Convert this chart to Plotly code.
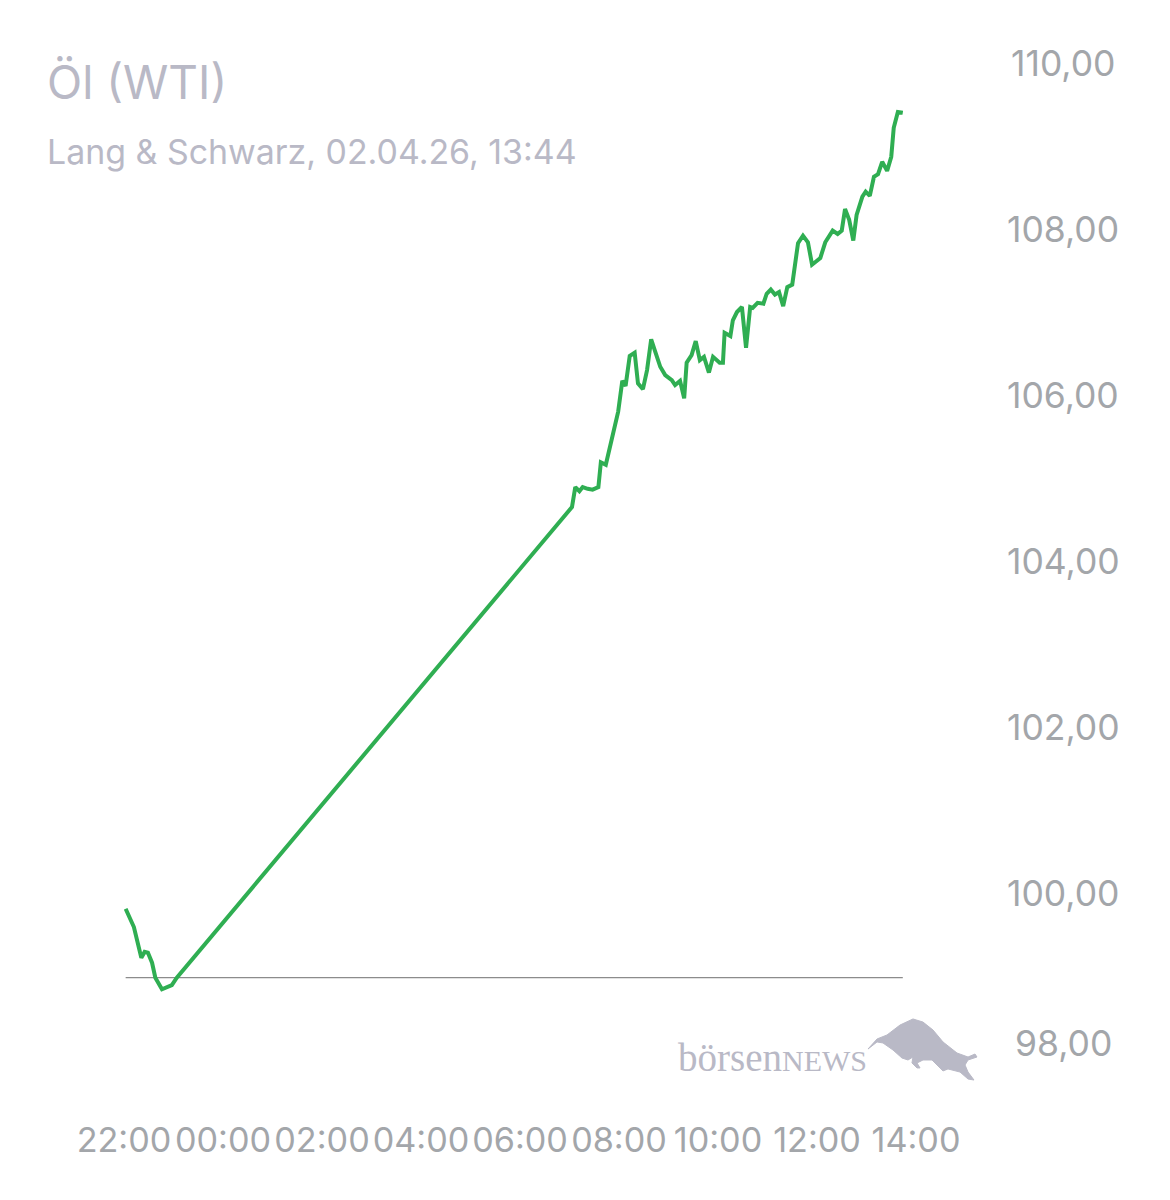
import pandas as pd
import plotly.graph_objects as go

W, H = 1170, 1200
# plot area in page pixels
LEFT, RIGHT, TOP, BOTTOM = 124, 916, 63, 1059

session_start = pd.Timestamp("2026-04-01 22:00")

# minutes after 22:00 and price
minutes = [
    2, 12, 21, 23, 25, 29, 34, 38, 46, 58, 64, 543, 547, 552, 556, 562, 568, 575, 578, 584,
    589, 595, 599, 604, 608, 613, 619, 623, 629, 634, 639, 644, 650, 656, 664, 668, 674, 679, 682, 688,
    693, 698, 703, 709, 714, 722, 726, 728, 735, 738, 743, 749, 754, 759, 762, 768, 775, 779, 784, 789,
    794, 799, 804, 810, 817, 823, 829, 834, 844, 850, 859, 865, 870, 874, 879, 884, 888, 895, 899, 904,
    909, 914, 919, 925, 930, 933, 938, 944,
]
prices = [
    99.81, 99.59, 99.22, 99.25, 99.29, 99.28, 99.16, 98.98, 98.84, 98.89, 98.98, 104.65, 104.89, 104.84, 104.89, 104.87, 104.86, 104.89, 105.19, 105.16,
    105.36, 105.60, 105.80, 106.17, 106.11, 106.47, 106.51, 106.14, 106.07, 106.30, 106.67, 106.52, 106.34, 106.24, 106.18, 106.12, 106.17, 105.96, 106.39, 106.48,
    106.65, 106.42, 106.46, 106.27, 106.46, 106.39, 106.39, 106.75, 106.71, 106.90, 107.00, 107.06, 106.57, 107.06, 107.05, 107.11, 107.10, 107.22, 107.27, 107.21,
    107.24, 107.07, 107.30, 107.33, 107.83, 107.92, 107.84, 107.57, 107.65, 107.84, 107.98, 107.94, 107.98, 108.24, 108.11, 107.86, 108.17, 108.39, 108.45, 108.40,
    108.63, 108.66, 108.81, 108.70, 108.87, 109.22, 109.41, 109.40,
]
previous_close = 98.98

y_ticks = [110, 108, 106, 104, 102, 100, 98]
y_tick_labels = ["110,00", "108,00", "106,00", "104,00", "102,00", "100,00", "98,00"]

title_text = "Öl (WTI)"
subtitle_text = "Lang & Schwarz, 02.04.26, 13:44"

times = [session_start + pd.Timedelta(minutes=m) for m in minutes]


def px_x(x):
    return (x - LEFT) / (RIGHT - LEFT)


def px_y(y):
    return (BOTTOM - y) / (BOTTOM - TOP)


# bull silhouette of the logo, page pixels
bull = [
    (868, 1049), (877, 1039), (887, 1035), (900, 1025), (913, 1019), (923, 1022), (933, 1030),
    (943, 1042), (957, 1053), (968, 1057), (975, 1054), (977, 1057), (968, 1060), (965, 1065),
    (968, 1072), (974, 1080), (968, 1079), (960, 1072), (948, 1069), (943, 1071), (932, 1060),
    (923, 1060), (917, 1063), (920, 1068), (917, 1068), (912, 1063), (913, 1057), (908, 1060),
    (902, 1058), (893, 1050), (883, 1043), (877, 1042),
]
bull_path = "M " + " L ".join(f"{px_x(a):.4f},{px_y(b):.4f}" for a, b in bull) + " Z"

fig = go.Figure()

# Linie Vortagesschluss
fig.add_trace(go.Scatter(
    x=[times[0], times[-1]], y=[previous_close, previous_close], mode="lines",
    line=dict(color="#8c8c8c", width=1.2), hoverinfo="skip",
))
fig.add_trace(go.Scatter(
    x=times, y=prices, mode="lines",
    line=dict(color="#2fae52", width=4),
))

annotations = []
for val, label in zip(y_ticks, y_tick_labels):
    annotations.append(dict(
        x=px_x(1063), xref="paper", y=val, yref="y", text=label, showarrow=False,
        xanchor="center", yanchor="middle", yshift=16 if val == 98 else 0,
        font=dict(family="Inter", size=35.5, color="#a3a6aa"),
    ))
annotations += [
    dict(x=px_x(45), y=px_y(82), xref="paper", yref="paper", text=title_text, showarrow=False,
         xanchor="left", yanchor="middle", font=dict(family="Inter", size=46, color="#b9b9c6")),
    dict(x=px_x(45), y=px_y(151), xref="paper", yref="paper", text=subtitle_text, showarrow=False,
         xanchor="left", yanchor="middle", font=dict(family="Inter", size=33.9, color="#b9b9c6")),
    dict(x=px_x(869), y=px_y(1057), xref="paper", yref="paper",
         text="börsen<span style='font-size:30px'>NEWS</span>", showarrow=False,
         xanchor="right", yanchor="middle",
         font=dict(family="Liberation Serif", size=39, color="#b9b9c6")),
]

fig.update_layout(
    width=W, height=H, autosize=False,
    margin=dict(l=LEFT, r=W - RIGHT, t=TOP, b=H - BOTTOM),
    paper_bgcolor="white", plot_bgcolor="white", showlegend=False,
    xaxis=dict(
        type="date", range=[session_start, session_start + pd.Timedelta(hours=16)],
        tick0=session_start, dtick=7200000, tickformat="%H:%M", tickangle=0,
        showgrid=False, zeroline=False, showline=False,
        ticks="outside", ticklen=51, tickcolor="rgba(0,0,0,0)",
        tickfont=dict(family="Inter", size=34.2, color="#a3a6aa"),
    ),
    yaxis=dict(range=[98, 110], showgrid=False, zeroline=False, showline=False,
               showticklabels=False, ticks=""),
    annotations=annotations,
    shapes=[dict(type="path", path=bull_path, xref="paper", yref="paper",
                 fillcolor="#b9b9c6", line=dict(width=1, color="#b9b9c6"))],
)

fig.write_html("out.html", config={"displayModeBar": False},
               post_script="document.body.style.margin = '0';")
